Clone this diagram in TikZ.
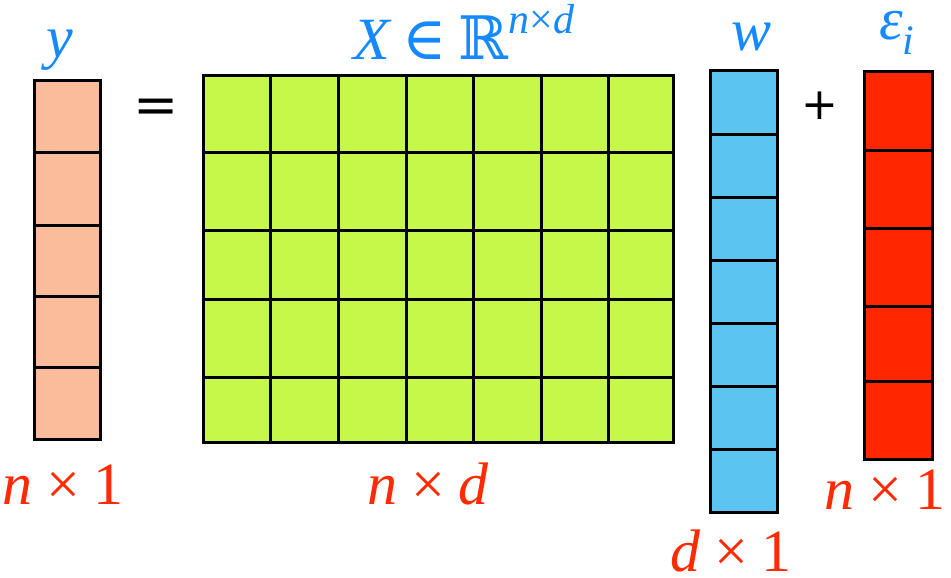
\documentclass[tikz,border=0pt]{standalone}
\usepackage{fontspec}
\setmainfont{Liberation Serif}[ItalicFont={Liberation Serif Italic}]
\newfontfamily\dvs{DejaVu Serif}
\newfontfamily\dvsans{DejaVu Sans}
\definecolor{salmon}{RGB}{251,188,156}
\definecolor{lgreen}{RGB}{198,248,74}
\definecolor{cblue}{RGB}{91,196,241}
\definecolor{cred}{RGB}{255,38,0}
\definecolor{lblue}{RGB}{22,137,255}
\definecolor{lred}{RGB}{255,42,0}
\tikzset{
  grid/.style={line width=3pt, draw=black, line join=miter},
  toplabel/.style={anchor=base, text=lblue, inner sep=0pt, font=\fontsize{60}{72}\selectfont\itshape},
  dimlabel/.style={anchor=base, text=lred, inner sep=0pt, font=\fontsize{60}{72}\selectfont\itshape},
  opsign/.style={anchor=base, inner sep=0pt},
}
\begin{document}
\begin{tikzpicture}[x=1pt,y=-1pt]
\useasboundingbox (0,0) rectangle (951,578);
% y column
\draw[grid, fill=salmon] (34,81) rectangle (100,439);
\foreach \yy in {152,225,296,367} \draw[grid] (34,\yy) -- (100,\yy);
% X matrix
\draw[grid, fill=lgreen] (203,76) rectangle (673,442);
\foreach \xx in {270,338,406,473,541,608} \draw[grid] (\xx,76) -- (\xx,442);
\foreach \yy in {152,230,299,377} \draw[grid] (203,\yy) -- (673,\yy);
% w column
\draw[grid, fill=cblue] (710,71) rectangle (777,512);
\foreach \yy in {134,197,260,323,386,449} \draw[grid] (710,\yy) -- (777,\yy);
% epsilon column
\draw[grid, fill=cred] (864,72) rectangle (932,459);
\foreach \yy in {150,228,306,381} \draw[grid] (864,\yy) -- (932,\yy);
% operators
\node[opsign, font=\dvs\fontsize{54}{64}\selectfont] (eq) at (156,123) {=};
\node[opsign, font=\dvsans\fontsize{44}{52}\selectfont] (plus) at (820,120) {+};
% top labels
\node[toplabel] (ly) at (60,58) {y};
\node[toplabel] (lX) at (464,60) {X\hspace{0.2em}{\dvs\upshape ∈}\hspace{0.2em}{\dvs\upshape ℝ}\raisebox{0.45em}{\fontsize{42}{50}\selectfont n{\upshape ×}d}};
\node[toplabel] (lw) at (752,51) {w};
\node[toplabel, text height=28pt] (le) at (897,40) {ε\raisebox{-0.25em}{\fontsize{42}{50}\selectfont i}};
% dimension labels
\node[dimlabel] (dy) at (63,504) {n\hspace{0.22em}{\upshape ×}\hspace{0.22em}{\upshape 1}};
\node[dimlabel] (dX) at (428,504) {n\hspace{0.22em}{\upshape ×}\hspace{0.22em}d};
\node[dimlabel, text depth=2pt] (dw) at (731,571) {d\hspace{0.22em}{\upshape ×}\hspace{0.22em}{\upshape 1}};
\node[dimlabel] (de) at (885,509) {n\hspace{0.22em}{\upshape ×}\hspace{0.22em}{\upshape 1}};
\end{tikzpicture}
\end{document}
